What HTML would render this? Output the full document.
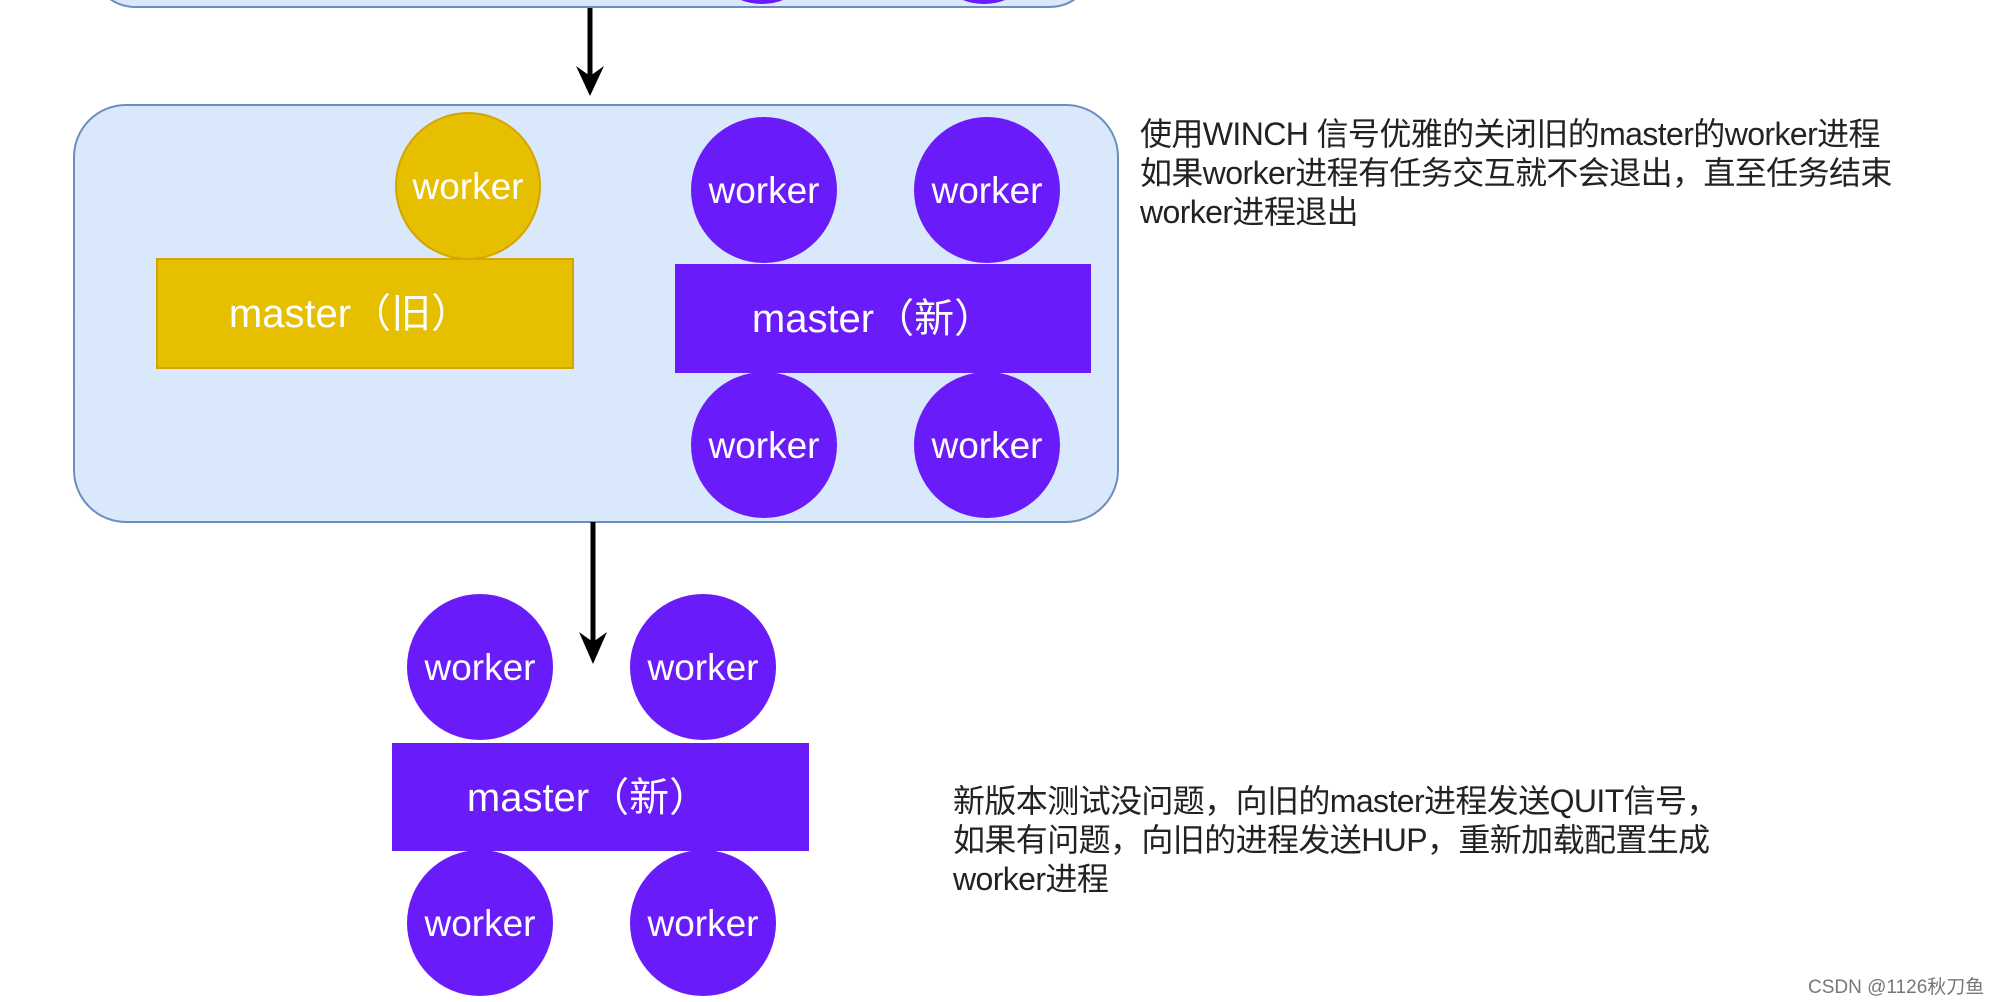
<!DOCTYPE html>
<html><head><meta charset="utf-8"><style>
body{margin:0;background:#fff;width:1997px;height:1002px;overflow:hidden;position:relative;font-family:"Liberation Sans","Noto Sans CJK SC",sans-serif}
.t{position:absolute;color:#222;font-size:32px;line-height:39px;white-space:nowrap;letter-spacing:-0.6px}
</style></head><body>
<svg width="1997" height="1002" style="position:absolute;left:0;top:0" font-family="Liberation Sans, Noto Sans CJK SC, sans-serif">
<rect x="96" y="-60" width="993" height="67" rx="40" fill="#dae8fc" stroke="#6c8ebf" stroke-width="2"/>
<ellipse cx="762" cy="-10" rx="30" ry="14" fill="#6a1bfa"/>
<ellipse cx="984" cy="-10" rx="30" ry="14" fill="#6a1bfa"/>
<line x1="590" y1="8" x2="590" y2="80" stroke="#000" stroke-width="5"/>
<polygon points="576,66 590,96 604,66 590,76" fill="#000"/>
<rect x="74" y="105" width="1044" height="417" rx="52" fill="#dae8fc" stroke="#6c8ebf" stroke-width="2"/>
<ellipse cx="468" cy="186" rx="72" ry="73" fill="#e6bf00" stroke="#d6a400" stroke-width="2"/>
<text x="468" y="199" font-size="37" fill="#fff" text-anchor="middle">worker</text>
<rect x="157" y="259" width="416" height="109" fill="#e6bf00" stroke="#d6a400" stroke-width="2"/>
<text x="350" y="327" font-size="40" fill="#fff" text-anchor="middle">master（旧）</text>
<g fill="#6a1bfa">
<ellipse cx="764" cy="190" rx="73" ry="73"/><ellipse cx="987" cy="190" rx="73" ry="73"/>
<rect x="675" y="264" width="416" height="109"/>
<ellipse cx="764" cy="445" rx="73" ry="73"/><ellipse cx="987" cy="445" rx="73" ry="73"/>
</g>
<g font-size="37" fill="#fff" text-anchor="middle">
<text x="764" y="203">worker</text><text x="987" y="203">worker</text>
<text x="764" y="458">worker</text><text x="987" y="458">worker</text>
</g>
<text x="873" y="332" font-size="40" fill="#fff" text-anchor="middle">master（新）</text>
<line x1="593" y1="522" x2="593" y2="650" stroke="#000" stroke-width="5"/>
<polygon points="579,632 593,664 607,632 593,642" fill="#000"/>
<g fill="#6a1bfa">
<ellipse cx="480" cy="667" rx="73" ry="73"/><ellipse cx="703" cy="667" rx="73" ry="73"/>
<rect x="392" y="743" width="417" height="108"/>
<ellipse cx="480" cy="923" rx="73" ry="73"/><ellipse cx="703" cy="923" rx="73" ry="73"/>
</g>
<g font-size="37" fill="#fff" text-anchor="middle">
<text x="480" y="680">worker</text><text x="703" y="680">worker</text>
<text x="480" y="936">worker</text><text x="703" y="936">worker</text>
</g>
<text x="588" y="811" font-size="40" fill="#fff" text-anchor="middle">master（新）</text>
</svg>
<div class="t" style="left:1140px;top:115px">使用WINCH 信号优雅的关闭旧的master的worker进程<br>如果worker进程有任务交互就不会退出，直至任务结束<br>worker进程退出</div>
<div class="t" style="left:953px;top:782px">新版本测试没问题，向旧的master进程发送QUIT信号，<br>如果有问题，向旧的进程发送HUP，重新加载配置生成<br>worker进程</div>
<div style="position:absolute;left:1808px;top:972px;font-size:19px;color:#777">CSDN @1126秋刀鱼</div>
</body></html>
